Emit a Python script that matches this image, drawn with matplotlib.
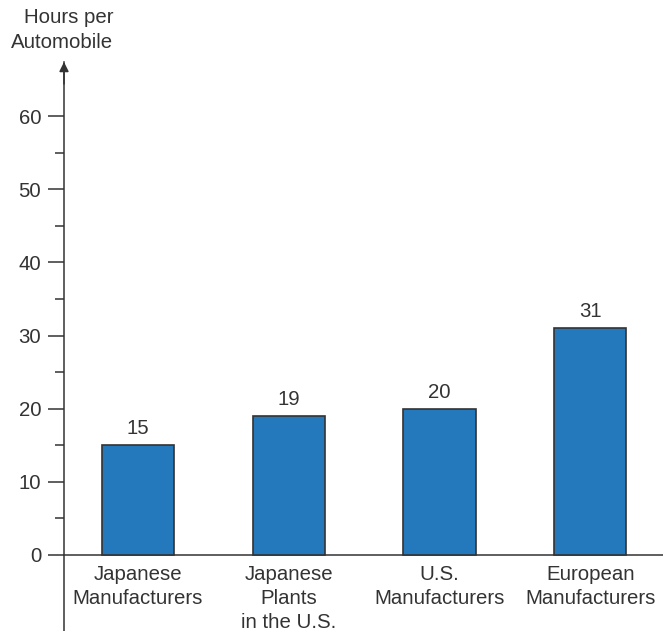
import matplotlib
matplotlib.use("Agg")
import matplotlib.pyplot as plt

# Labour hours needed to build one car, by producer group
categories = ["Japanese\nManufacturers", "Japanese\nPlants\nin the U.S.",
              "U.S.\nManufacturers", "European\nManufacturers"]
hours = [15, 19, 20, 31]
yticks = [0, 10, 20, 30, 40, 50, 60]
yminor = [5, 15, 25, 35, 45, 55]

BAR_COLOR = "#2479BC"
EDGE = "#333333"
TEXT = "#333333"
FONT = "Liberation Sans"
FS = 14.7

plt.rcParams["font.family"] = FONT

W, H = 663, 631
fig = plt.figure(figsize=(W / 100, H / 100), dpi=100)
fig.patch.set_facecolor("white")

# axes span from the y-axis line to the right edge, arrow tip to bottom edge
px_per_unit = (555 - 116) / 60.0
ymin = -(631 - 555) / px_per_unit
ymax = (555 - 62) / px_per_unit
x_step = 150.8
x0 = 137.9
xmin = -(x0 - 64) / x_step
xmax = (663 - x0) / x_step

ax = fig.add_axes([64 / W, 0, (663 - 64) / W, (631 - 62) / H])
ax.set_xlim(xmin, xmax)
ax.set_ylim(ymin, ymax)

xs = list(range(len(hours)))
bars = ax.bar(xs, hours, width=0.48, color=BAR_COLOR, edgecolor=EDGE,
              linewidth=1.2, zorder=3)

for b, v in zip(bars, hours):
    ax.annotate(str(v), (b.get_x() + b.get_width() / 2, v),
                xytext=(0, 5), textcoords="offset points",
                ha="center", va="bottom", fontsize=FS, color=TEXT)

for s in ["top", "right"]:
    ax.spines[s].set_visible(False)
ax.spines["bottom"].set_position(("data", 0))
ax.spines["bottom"].set_color(EDGE)
ax.spines["bottom"].set_linewidth(1.1)
ax.spines["left"].set_color(EDGE)
ax.spines["left"].set_linewidth(1.1)

ax.set_xticks(xs)
ax.set_xticklabels(categories, fontsize=FS, color=TEXT, linespacing=1.35)
ax.tick_params(axis="x", length=0, pad=7)

ax.set_yticks(yticks)
ax.set_yticks(yminor, minor=True)
ax.set_yticklabels([str(t) for t in yticks], fontsize=FS, color=TEXT)
ax.tick_params(axis="y", which="major", length=11.5, width=1.1, color=EDGE, pad=5)
ax.tick_params(axis="y", which="minor", length=6.5, width=1.1, color=EDGE)

# arrow head on top of the y axis
ax.annotate("", xy=(xmin, ymax), xytext=(xmin, ymax - 3),
            arrowprops=dict(arrowstyle="-|>", color=EDGE, lw=1.1,
                            mutation_scale=14, shrinkA=0, shrinkB=0),
            annotation_clip=False)

fig.text(113 / W, 1 - 8 / H, "Hours per\nAutomobile", ha="right", va="top",
         multialignment="right", fontsize=FS, color=TEXT, linespacing=1.4)

fig.savefig("out.png", dpi=100, facecolor="white")
